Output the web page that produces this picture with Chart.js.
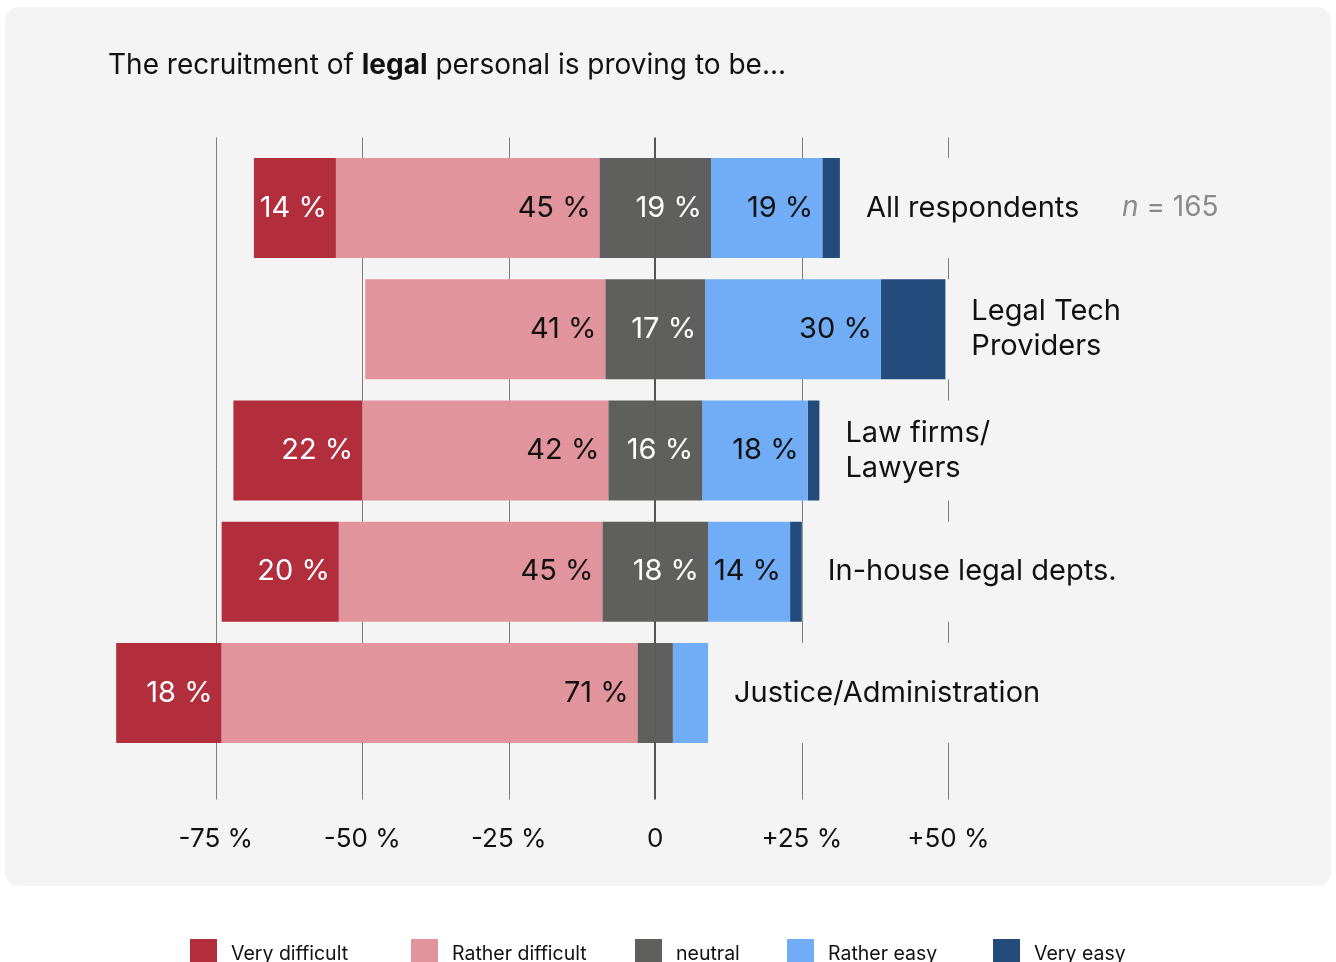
<!DOCTYPE html>
<html>
<head>
<meta charset="utf-8">
<script src="https://cdn.jsdelivr.net/npm/chart.js@4/dist/chart.umd.min.js"></script>
<style>
  html, body { margin: 0; padding: 0; background: #ffffff; overflow: hidden; }
  #wrap { position: relative; width: 1336px; height: 962px; }
  canvas { display: block; }
</style>
</head>
<body>
<div id="wrap"><canvas id="chart" width="1336" height="962"></canvas></div>
<script>
// Survey groups (multi-line names are split into lines)
const categories = [
  ['All respondents'],
  ['Legal Tech', 'Providers'],
  ['Law firms/', 'Lawyers'],
  ['In-house legal depts.'],
  ['Justice/Administration']
];

// Share of answers per group, in percent
const veryDifficult   = [14, 0, 22, 20, 18];
const ratherDifficult = [45, 41, 42, 45, 71];
const neutral         = [19, 17, 16, 18, 6];
const ratherEasy      = [19, 30, 18, 14, 6];
const veryEasy        = [3, 11, 2, 2, 0];

const seriesNames  = ['Very difficult', 'Rather difficult', 'neutral', 'Rather easy', 'Very easy'];
const seriesColors = ['#b22e3c', '#e2949d', '#5f5f5d', '#70adf6', '#234b7c'];

const tickValues = [-75, -50, -25, 0, 25, 50];
const tickLabels = ['-75 %', '-50 %', '-25 %', '0', '+25 %', '+50 %'];

const sampleSize = 165;

const FONT  = 'Inter, "Noto Sans", "DejaVu Sans", sans-serif';
const PANEL = '#f4f4f4';
const INK   = '#111111';

// Diverging stack: neutral is split around zero, "difficult" answers go left, "easy" right
const datasets = [
  { label: seriesNames[2], data: neutral.map(v => -v / 2),   backgroundColor: seriesColors[2] },
  { label: seriesNames[1], data: ratherDifficult.map(v => -v), backgroundColor: seriesColors[1] },
  { label: seriesNames[0], data: veryDifficult.map(v => -v),   backgroundColor: seriesColors[0] },
  { label: seriesNames[2], data: neutral.map(v => v / 2),    backgroundColor: seriesColors[2] },
  { label: seriesNames[3], data: ratherEasy,                  backgroundColor: seriesColors[3] },
  { label: seriesNames[4], data: veryEasy,                    backgroundColor: seriesColors[4] }
];

function roundRect(ctx, x, y, w, h, r) {
  ctx.beginPath();
  ctx.moveTo(x + r, y);
  ctx.lineTo(x + w - r, y);
  ctx.quadraticCurveTo(x + w, y, x + w, y + r);
  ctx.lineTo(x + w, y + h - r);
  ctx.quadraticCurveTo(x + w, y + h, x + w - r, y + h);
  ctx.lineTo(x + r, y + h);
  ctx.quadraticCurveTo(x, y + h, x, y + h - r);
  ctx.lineTo(x, y + r);
  ctx.quadraticCurveTo(x, y, x + r, y);
  ctx.closePath();
}

function elementBounds(el) {
  const p = el.getProps(['x', 'y', 'base', 'height'], true);
  return {
    left: Math.min(p.x, p.base),
    right: Math.max(p.x, p.base),
    top: p.y - p.height / 2,
    bottom: p.y + p.height / 2,
    cy: p.y
  };
}

// Rounded grey panel behind the chart
const panelPlugin = {
  id: 'panel',
  beforeDraw(chart) {
    const ctx = chart.ctx;
    ctx.save();
    ctx.fillStyle = '#ffffff';
    ctx.fillRect(0, 0, chart.width, chart.height);
    ctx.fillStyle = PANEL;
    roundRect(ctx, 5, 7, 1326, 879, 16);
    ctx.fill();

    // Title with the emphasised word in bold
    ctx.fillStyle = INK;
    ctx.textBaseline = 'middle';
    ctx.textAlign = 'left';
    const parts = [
      ['The recruitment of ', '400'],
      ['legal', '700'],
      [' personal is proving to be...', '400']
    ];
    let x = 108;
    parts.forEach(([t, w]) => {
      ctx.font = w + ' 28px ' + FONT;
      ctx.fillText(t, x, 66);
      x += ctx.measureText(t).width;
    });
    ctx.restore();
  }
};

// Vertical reference lines, reaching a little past the bars
const gridPlugin = {
  id: 'grid',
  beforeDatasetsDraw(chart) {
    const ctx = chart.ctx;
    const xs = chart.scales.x;
    const area = chart.chartArea;
    ctx.save();
    tickValues.forEach(v => {
      const px = Math.round(xs.getPixelForValue(v));
      if (v === 0) {
        ctx.strokeStyle = '#555555';
        ctx.lineWidth = 2;
        ctx.beginPath();
        ctx.moveTo(px, area.top - 10);
        ctx.lineTo(px, area.bottom + 46);
        ctx.stroke();
      } else {
        ctx.strokeStyle = '#7d7d7d';
        ctx.lineWidth = 1;
        ctx.beginPath();
        ctx.moveTo(px + 0.5, area.top - 10);
        ctx.lineTo(px + 0.5, area.bottom + 46);
        ctx.stroke();
      }
    });
    ctx.restore();
  }
};

// Group names to the right of each bar, value labels inside the segments
const labelPlugin = {
  id: 'labels',
  afterDatasetsDraw(chart) {
    const ctx = chart.ctx;
    const metas = datasets.map((_, i) => chart.getDatasetMeta(i));
    ctx.save();

    categories.forEach((lines, i) => {
      let right = -Infinity, top = 0, bottom = 0, cy = 0;
      metas.forEach(m => {
        const b = elementBounds(m.data[i]);
        right = Math.max(right, b.right);
        top = b.top; bottom = b.bottom; cy = b.cy;
      });
      // mask the reference lines behind the group name
      ctx.fillStyle = PANEL;
      ctx.fillRect(right + 1, top, 1320 - right, bottom - top);

      ctx.fillStyle = INK;
      ctx.font = '400 29px ' + FONT;
      ctx.textAlign = 'left';
      ctx.textBaseline = 'middle';
      const lh = 35;
      lines.forEach((t, k) => {
        ctx.fillText(t, right + 26, cy + (k - (lines.length - 1) / 2) * lh);
      });

      if (i === 0) {
        ctx.fillStyle = '#8a8a8a';
        ctx.font = 'italic 400 28px ' + FONT;
        ctx.fillText('n', 1122, cy);
        const w = ctx.measureText('n').width;
        ctx.font = '400 28px ' + FONT;
        ctx.fillText(' = ' + sampleSize, 1122 + w, cy);
      }
    });

    // value labels: [values, dataset index giving the right edge, text colour]
    const segs = [
      [veryDifficult, 2, '#ffffff'],
      [ratherDifficult, 1, INK],
      [neutral, 3, '#ffffff'],
      [ratherEasy, 4, INK]
    ];
    ctx.font = '400 29px ' + FONT;
    ctx.textAlign = 'right';
    ctx.textBaseline = 'middle';
    segs.forEach(([vals, di, col]) => {
      vals.forEach((v, i) => {
        if (v < 12) return;
        const b = elementBounds(metas[di].data[i]);
        ctx.fillStyle = col;
        ctx.fillText(v + ' %', b.right - 9, b.cy);
      });
    });
    ctx.restore();
  }
};

// Legend row below the panel
const legendPlugin = {
  id: 'legendRow',
  afterDraw(chart) {
    const ctx = chart.ctx;
    const starts = [190, 411, 635, 787, 993];
    ctx.save();
    ctx.font = '400 19.5px ' + FONT;
    ctx.textAlign = 'left';
    ctx.textBaseline = 'alphabetic';
    seriesNames.forEach((name, i) => {
      ctx.fillStyle = seriesColors[i];
      ctx.fillRect(starts[i], 939, 27, 24);
      ctx.fillStyle = INK;
      ctx.fillText(name, starts[i] + 41, 960);
    });
    ctx.restore();
  }
};

new Chart(document.getElementById('chart').getContext('2d'), {
  type: 'bar',
  data: { labels: categories.map(c => c.join(' ')), datasets },
  options: {
    indexAxis: 'y',
    responsive: false,
    animation: false,
    layout: { padding: { top: 147.4, left: 69.3, right: 94.7, bottom: 0 } },
    plugins: { legend: { display: false }, tooltip: { enabled: false } },
    datasets: { bar: { barPercentage: 1, categoryPercentage: 0.825, borderWidth: 0, stack: 'all' } },
    scales: {
      y: { display: false, stacked: true },
      x: {
        stacked: true,
        min: -100,
        max: 100,
        grid: { display: false },
        border: { display: false },
        afterBuildTicks: s => { s.ticks = tickValues.map(v => ({ value: v })); },
        afterFit: s => { s.height = 208.4; },
        ticks: {
          padding: 62,
          maxRotation: 0,
          autoSkip: false,
          color: INK,
          font: { family: FONT, size: 26 },
          callback: v => tickLabels[tickValues.indexOf(v)]
        }
      }
    }
  },
  plugins: [panelPlugin, gridPlugin, labelPlugin, legendPlugin]
});
</script>
</body>
</html>
